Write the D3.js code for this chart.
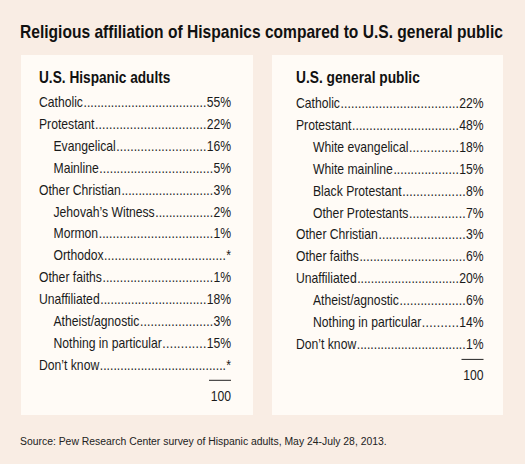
<!DOCTYPE html>
<html><head><meta charset="utf-8">
<script src="https://cdn.jsdelivr.net/npm/d3@7"></script>
<style>
html,body{margin:0;padding:0;background:#f9ede4;}
svg{display:block;}
</style></head>
<body>
<script>
const titleText = "Religious affiliation of Hispanics compared to U.S. general public";
const sourceText = "Source: Pew Research Center survey of Hispanic adults, May 24-July 28, 2013.";
const panelTitles = ["U.S. Hispanic adults", "U.S. general public"];

const hispanicLabels = ["Catholic","Protestant","Evangelical","Mainline","Other Christian","Jehovah\u2019s Witness","Mormon","Orthodox","Other faiths","Unaffiliated","Atheist/agnostic","Nothing in particular","Don\u2019t know"];
const hispanicValues = ["55%","22%","16%","5%","3%","2%","1%","*","1%","18%","3%","15%","*"];
const hispanicIndent = [0,0,1,1,0,1,1,1,0,0,1,1,0];

const publicLabels = ["Catholic","Protestant","White evangelical","White mainline","Black Protestant","Other Protestants","Other Christian","Other faiths","Unaffiliated","Atheist/agnostic","Nothing in particular","Don\u2019t know"];
const publicValues = ["22%","48%","18%","15%","8%","7%","3%","6%","20%","6%","14%","1%"];
const publicIndent = [0,0,1,1,1,1,0,0,0,1,1,0];

const totals = ["100","100"];

const W = 525, H = 464;
const FONT = "'Liberation Sans', Arial, Helvetica, sans-serif";
const K = 0.84; // horizontal condensing of the body text
const svg = d3.select("body").append("svg").attr("width", W).attr("height", H);

svg.append("rect").attr("width", W).attr("height", H).attr("fill", "#f9ede4");

// helper: text placed via transform, horizontally scaled
function addText(parent, x, y, str, o) {
  const g = parent.append("g");
  const t = g.append("text").attr("x", 0).attr("y", 0)
    .attr("font-family", FONT).attr("font-size", o.size)
    .attr("font-weight", o.bold ? "bold" : "normal")
    .attr("fill", o.fill || "#1a1a1a")
    .attr("text-anchor", o.anchor || "start")
    .text(str);
  const nat = t.node().getComputedTextLength();
  let k = o.k || K;
  if (o.fitWidth) k = o.fitWidth / nat;
  g.attr("transform", `translate(${x},${y}) scale(${k},1)`);
  return {g, t, width: nat * k, k};
}

addText(svg, 20, 38, titleText, {size: 18, bold: true, fill: "#111", fitWidth: 483});
addText(svg, 20, 444.5, sourceText, {size: 11.5, fill: "#222", fitWidth: 367});

const panels = [
  {x0: 21, x1: 253, textX: 39, indentX: 53.5, valX: 231, y0: 107, headW: 131.5, labels: hispanicLabels, values: hispanicValues, indent: hispanicIndent, title: panelTitles[0], total: totals[0]},
  {x0: 272, x1: 503, textX: 296, indentX: 313, valX: 483.5, y0: 108, headW: 124, labels: publicLabels, values: publicValues, indent: publicIndent, title: panelTitles[1], total: totals[1]}
];

const rowStep = 21.9;
panels.forEach(p => {
  const g = svg.append("g");
  g.append("rect").attr("x", p.x0).attr("y", 55).attr("width", p.x1 - p.x0).attr("height", 360).attr("fill", "#fffbf6");

  addText(g, p.textX, 83, p.title, {size: 16, bold: true, fill: "#111", fitWidth: p.headW});

  const n = p.labels.length;
  const y = d3.scaleLinear().domain([0, 1]).range([p.y0, p.y0 + rowStep]);

  p.labels.forEach((lab, i) => {
    const yy = y(i);
    const lx = p.indent[i] ? p.indentX : p.textX;
    const L = addText(g, lx, yy, lab, {size: 14.5});
    const V = addText(g, p.valX, yy, p.values[i], {size: 14.5, anchor: "end"});
    const start = lx + L.width + 0.5;
    const end = p.valX - V.width - 0.3;
    const D = addText(g, start, yy, ".", {size: 14.5});
    const dw = D.width;
    const count = Math.max(0, Math.floor((end - start) / dw));
    D.t.text(".".repeat(count));
    if (count > 0) D.t.attr("textLength", (end - start) / K).attr("lengthAdjust", "spacing");
  });

  const lineY = y(n - 1) + 10.5;
  g.append("line").attr("x1", p.valX - 22).attr("x2", p.valX).attr("y1", lineY).attr("y2", lineY)
    .attr("stroke", "#222").attr("stroke-width", 1);
  addText(g, p.valX, lineY + 21, p.total, {size: 14.5, anchor: "end"});
});
</script>
</body></html>
